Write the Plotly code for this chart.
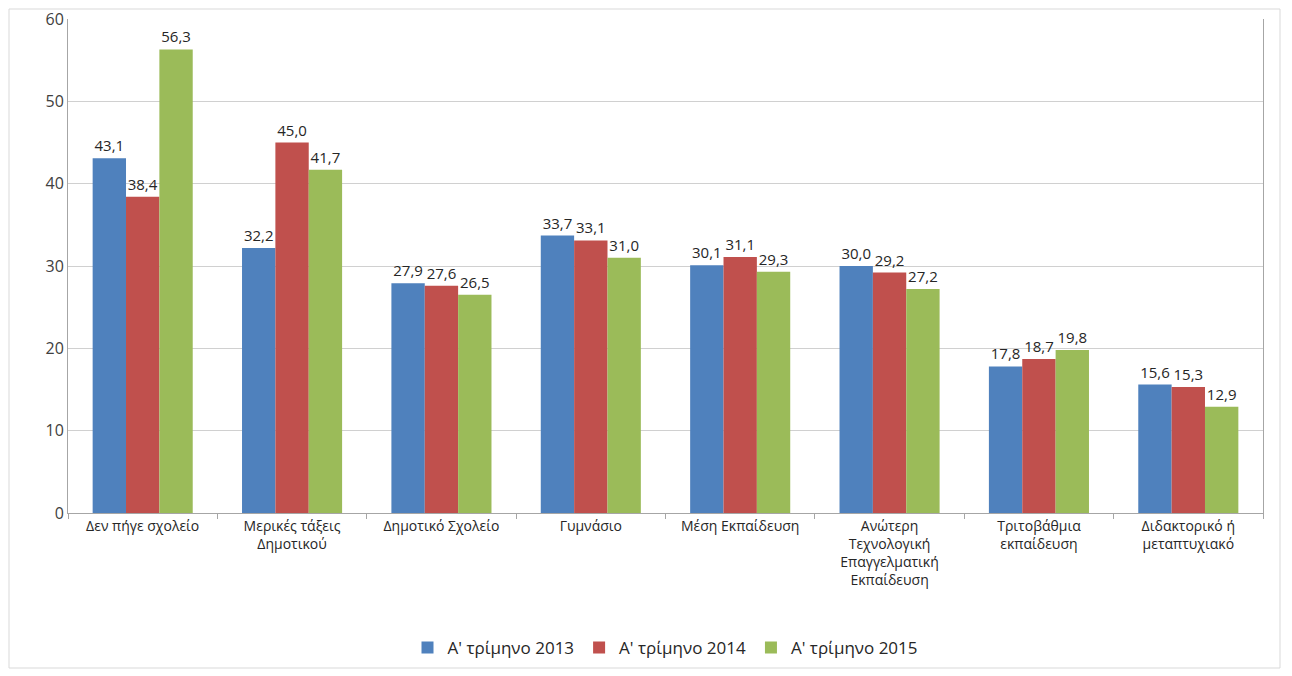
import plotly.graph_objects as go

categories = [
    "Δεν πήγε σχολείο",
    "Μερικές τάξεις<br>Δημοτικού",
    "Δημοτικό Σχολείο",
    "Γυμνάσιο",
    "Μέση Εκπαίδευση",
    "Ανώτερη<br>Τεχνολογική<br>Επαγγελματική<br>Εκπαίδευση",
    "Τριτοβάθμια<br>εκπαίδευση",
    "Διδακτορικό ή<br>μεταπτυχιακό",
]
q1_2013 = [43.1, 32.2, 27.9, 33.7, 30.1, 30.0, 17.8, 15.6]
q1_2014 = [38.4, 45.0, 27.6, 33.1, 31.1, 29.2, 18.7, 15.3]
q1_2015 = [56.3, 41.7, 26.5, 31.0, 29.3, 27.2, 19.8, 12.9]

series = [
    ("Α' τρίμηνο 2013", q1_2013, "#4F81BD"),
    ("Α' τρίμηνο 2014", q1_2014, "#C0504D"),
    ("Α' τρίμηνο 2015", q1_2015, "#9BBB59"),
]

FONT = "Open Sans, DejaVu Sans, sans-serif"


def fmt(v):
    return f"{v:.1f}".replace(".", ",")


fig = go.Figure()
for name, vals, color in series:
    fig.add_trace(go.Bar(
        x=categories, y=vals, name=name,
        marker=dict(color=color, line=dict(width=0)),
        text=[fmt(v) for v in vals],
        textposition="outside",
        textfont=dict(size=15, color="#262626", family=FONT),
        cliponaxis=False,
    ))

W, H = 1292, 676
ml, mr, mt, mb = 60, 37, 11, 171
pw, ph = W - ml - mr, H - mt - mb

fig.update_layout(
    width=W, height=H,
    barmode="group", bargap=0.33, bargroupgap=0,
    plot_bgcolor="white", paper_bgcolor="white",
    margin=dict(l=ml, r=mr, t=mt, b=mb, autoexpand=False),
    font=dict(family=FONT, color="#404040"),
    legend=dict(
        orientation="h", x=0.5, xanchor="center", y=-0.273, yanchor="middle",
        font=dict(size=17, color="#262626"), itemwidth=30, traceorder="normal",
    ),
    xaxis=dict(
        showline=True, linecolor="#A6A6A6", linewidth=1,
        ticks="outside", tickson="boundaries", ticklen=5, tickcolor="#A6A6A6",
        tickfont=dict(size=14, color="#262626"),
    ),
    yaxis=dict(
        range=[0, 60], dtick=10,
        showline=True, linecolor="#A6A6A6", linewidth=1, mirror=True,
        gridcolor="#D0D0D0", gridwidth=1,
        ticks="", tickfont=dict(size=16, color="#404040"),
        ticklabeloverflow="allow",
        zeroline=False,
    ),
    shapes=[dict(
        type="rect", xref="paper", yref="paper",
        x0=-(ml - 1) / pw, x1=1 + 17 / pw,
        y0=-155 / ph, y1=1 + (mt - 1) / ph,
        line=dict(color="#D9D9D9", width=1), fillcolor="rgba(0,0,0,0)",
        layer="below",
    )],
)

fig.write_html("out.html")
